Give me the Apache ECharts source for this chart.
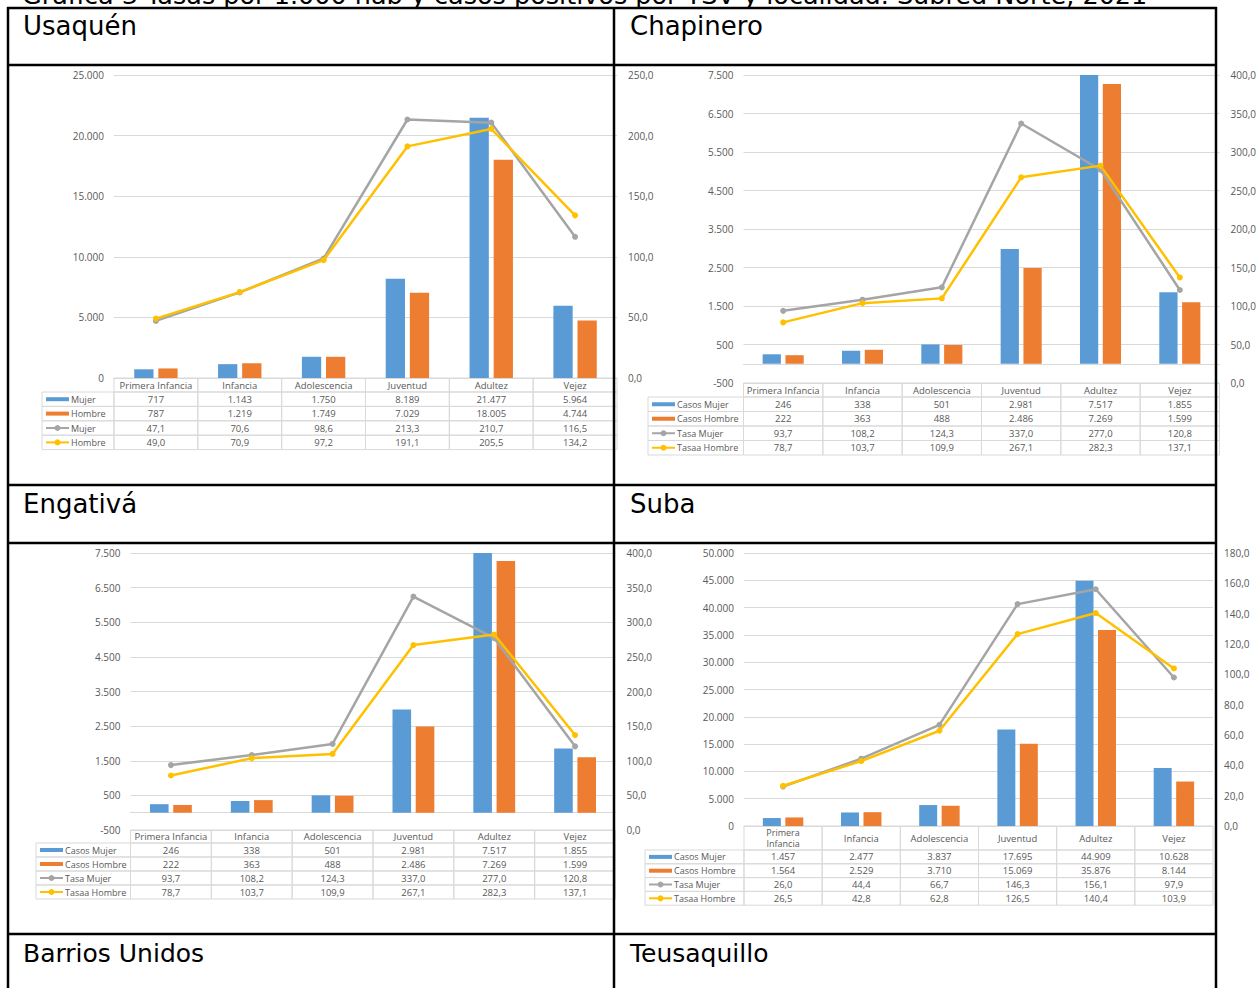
<!DOCTYPE html>
<html><head><meta charset="utf-8">
<script src="https://cdn.jsdelivr.net/npm/echarts@6/dist/echarts.min.js"></script>
<style>html,body{margin:0;padding:0;background:#fff;overflow:hidden}#c{width:1256px;height:988px}</style>
</head><body><div id="c"></div>
<script>
// ---------- data ----------
const pageTitle = 'Gráfica 3 Tasas por 1.000 hab y casos positivos por TSV y localidad. Subred Norte, 2021';
const cellTitles = ['Usaquén', 'Chapinero', 'Engativá', 'Suba', 'Barrios Unidos', 'Teusaquillo'];
const categories = ['Primera Infancia', 'Infancia', 'Adolescencia', 'Juventud', 'Adultez', 'Vejez'];
const categoriesSuba = ['Primera\nInfancia', 'Infancia', 'Adolescencia', 'Juventud', 'Adultez', 'Vejez'];

const usaquenLegend = ['Mujer', 'Hombre', 'Mujer', 'Hombre'];
const usaquenCasosMujer = [717, 1143, 1750, 8189, 21477, 5964];
const usaquenCasosHombre = [787, 1219, 1749, 7029, 18005, 4744];
const usaquenTasaMujer = [47.1, 70.6, 98.6, 213.3, 210.7, 116.5];
const usaquenTasaHombre = [49.0, 70.9, 97.2, 191.1, 205.5, 134.2];
const usaquenLeftAxis = [0, 25000, 5000];
const usaquenRightAxis = [0, 250, 50];

const chapineroLegend = ['Casos Mujer', 'Casos Hombre', 'Tasa Mujer', 'Tasaa Hombre'];
const chapineroCasosMujer = [246, 338, 501, 2981, 7517, 1855];
const chapineroCasosHombre = [222, 363, 488, 2486, 7269, 1599];
const chapineroTasaMujer = [93.7, 108.2, 124.3, 337.0, 277.0, 120.8];
const chapineroTasaHombre = [78.7, 103.7, 109.9, 267.1, 282.3, 137.1];
const chapineroLeftAxis = [-500, 7500, 1000];
const chapineroRightAxis = [0, 400, 50];

const engativaLegend = ['Casos Mujer', 'Casos Hombre', 'Tasa Mujer', 'Tasaa Hombre'];
const engativaCasosMujer = [246, 338, 501, 2981, 7517, 1855];
const engativaCasosHombre = [222, 363, 488, 2486, 7269, 1599];
const engativaTasaMujer = [93.7, 108.2, 124.3, 337.0, 277.0, 120.8];
const engativaTasaHombre = [78.7, 103.7, 109.9, 267.1, 282.3, 137.1];
const engativaLeftAxis = [-500, 7500, 1000];
const engativaRightAxis = [0, 400, 50];

const subaLegend = ['Casos Mujer', 'Casos Hombre', 'Tasa Mujer', 'Tasaa Hombre'];
const subaCasosMujer = [1457, 2477, 3837, 17695, 44909, 10628];
const subaCasosHombre = [1564, 2529, 3710, 15069, 35876, 8144];
const subaTasaMujer = [26.0, 44.4, 66.7, 146.3, 156.1, 97.9];
const subaTasaHombre = [26.5, 42.8, 62.8, 126.5, 140.4, 103.9];
const subaLeftAxis = [0, 50000, 5000];
const subaRightAxis = [0, 180, 20];

// ---------- styles / layout ----------
const C_BLUE = '#5B9BD5', C_ORANGE = '#ED7D31', C_GRAY = '#A5A5A5', C_GOLD = '#FFC000';
const TXT = '#595959', GRID = '#D9D9D9';
const FONT = '"Open Sans", sans-serif';
const DOCFONT = '"DejaVu Sans", Verdana, sans-serif';
const AXFS = 10, TBFS = 9.5, LGFS = 9;

const panels = [
  { legend: usaquenLegend, head: categories, rows: [usaquenCasosMujer, usaquenCasosHombre, usaquenTasaMujer, usaquenTasaHombre],
    la: usaquenLeftAxis, ra: usaquenRightAxis,
    L: { gl: 114, gr: 617, gt: 75, gb: 378, legL: 42, hh: 14, rh: 14.4 } },
  { legend: chapineroLegend, head: categories, rows: [chapineroCasosMujer, chapineroCasosHombre, chapineroTasaMujer, chapineroTasaHombre],
    la: chapineroLeftAxis, ra: chapineroRightAxis,
    L: { gl: 743.5, gr: 1219.5, gt: 75, gb: 383, legL: 648, hh: 14, rh: 14.5 } },
  { legend: engativaLegend, head: categories, rows: [engativaCasosMujer, engativaCasosHombre, engativaTasaMujer, engativaTasaHombre],
    la: engativaLeftAxis, ra: engativaRightAxis,
    L: { gl: 130.5, gr: 615.5, gt: 553, gb: 830, legL: 36, hh: 13, rh: 14 } },
  { legend: subaLegend, head: categoriesSuba, rows: [subaCasosMujer, subaCasosHombre, subaTasaMujer, subaTasaHombre],
    la: subaLeftAxis, ra: subaRightAxis,
    L: { gl: 744, gr: 1213, gt: 553, gb: 826, legL: 645, hh: 24, rh: 13.8 } }
];

function fmtInt(v) {
  const s = Math.abs(Math.round(v)).toString().replace(/\B(?=(\d{3})+(?!\d))/g, '.');
  return (v < 0 ? '-' : '') + s;
}
function fmtDec(v) { return v.toFixed(1).replace('.', ','); }

const grids = [], xAxes = [], yAxes = [], series = [], graphics = [];
const rowColors = [C_BLUE, C_ORANGE, C_GRAY, C_GOLD];

panels.forEach((p, i) => {
  const L = p.L;
  grids.push({ left: L.gl, top: L.gt, width: L.gr - L.gl, height: L.gb - L.gt, outerBoundsMode: 'none', containLabel: false });
  xAxes.push({ type: 'category', gridIndex: i, data: categories,
    axisLabel: { show: false }, axisTick: { show: false },
    axisLine: { show: true, onZero: true, onZeroAxisIndex: 2 * i, lineStyle: { color: GRID, width: 1 } } });
  yAxes.push({ type: 'value', gridIndex: i, position: 'left', min: p.la[0], max: p.la[1], interval: p.la[2],
    axisLine: { show: false }, axisTick: { show: false },
    axisLabel: { color: TXT, fontSize: AXFS, fontFamily: FONT, margin: 10, formatter: v => fmtInt(v) },
    splitLine: { show: true, lineStyle: { color: GRID, width: 1 } } });
  yAxes.push({ type: 'value', gridIndex: i, position: 'right', min: p.ra[0], max: p.ra[1], interval: p.ra[2],
    axisLine: { show: false }, axisTick: { show: false },
    axisLabel: { color: TXT, fontSize: AXFS, fontFamily: FONT, margin: 11, formatter: v => fmtDec(v) },
    splitLine: { show: false } });
  series.push({ type: 'bar', name: p.legend[0], xAxisIndex: i, yAxisIndex: 2 * i, data: p.rows[0],
    barWidth: '23%', barGap: '25%', itemStyle: { color: C_BLUE }, silent: true });
  series.push({ type: 'bar', name: p.legend[1], xAxisIndex: i, yAxisIndex: 2 * i, data: p.rows[1],
    barWidth: '23%', barGap: '25%', itemStyle: { color: C_ORANGE }, silent: true });
  series.push({ type: 'line', name: p.legend[2], xAxisIndex: i, yAxisIndex: 2 * i + 1, data: p.rows[2],
    symbol: 'circle', symbolSize: 6, lineStyle: { color: C_GRAY, width: 2.5 }, itemStyle: { color: C_GRAY }, z: 3, silent: true });
  series.push({ type: 'line', name: p.legend[3], xAxisIndex: i, yAxisIndex: 2 * i + 1, data: p.rows[3],
    symbol: 'circle', symbolSize: 6, lineStyle: { color: C_GOLD, width: 2.5 }, itemStyle: { color: C_GOLD }, z: 4, silent: true });

  // data table under the plot
  const n = categories.length, cw = (L.gr - L.gl) / n;
  let y = L.gb;
  const cellStyle = { fill: 'none', stroke: GRID, lineWidth: 1 };
  p.head.forEach((c, k) => {
    graphics.push({ type: 'rect', shape: { x: L.gl + k * cw, y: y, width: cw, height: L.hh }, style: cellStyle, silent: true });
    const two = c.indexOf('\n') >= 0;
    graphics.push({ type: 'text', x: L.gl + (k + 0.5) * cw, y: y + L.hh / 2,
      style: { text: c, fill: TXT, fontSize: two ? 9 : TBFS, fontFamily: FONT, align: 'center', verticalAlign: 'middle', lineHeight: two ? 11 : 12 }, silent: true });
  });
  y += L.hh;
  p.rows.forEach((row, r) => {
    graphics.push({ type: 'rect', shape: { x: L.legL, y: y, width: L.gl - L.legL, height: L.rh }, style: cellStyle, silent: true });
    const kx = L.legL + 4, ky = y + L.rh / 2;
    if (r < 2) {
      graphics.push({ type: 'rect', shape: { x: kx, y: ky - 2, width: 23, height: 4 }, style: { fill: rowColors[r] }, silent: true });
    } else {
      graphics.push({ type: 'line', shape: { x1: kx, y1: ky, x2: kx + 23, y2: ky }, style: { stroke: rowColors[r], lineWidth: 2 }, silent: true });
      graphics.push({ type: 'circle', shape: { cx: kx + 11.5, cy: ky, r: 3 }, style: { fill: rowColors[r] }, silent: true });
    }
    graphics.push({ type: 'text', x: kx + 25, y: ky,
      style: { text: p.legend[r], fill: TXT, fontSize: LGFS, fontFamily: FONT, align: 'left', verticalAlign: 'middle' }, silent: true });
    row.forEach((v, k) => {
      graphics.push({ type: 'rect', shape: { x: L.gl + k * cw, y: y, width: cw, height: L.rh }, style: cellStyle, silent: true });
      graphics.push({ type: 'text', x: L.gl + (k + 0.5) * cw, y: ky,
        style: { text: r < 2 ? fmtInt(v) : fmtDec(v), fill: TXT, fontSize: TBFS, fontFamily: FONT, align: 'center', verticalAlign: 'middle' }, silent: true });
    });
    y += L.rh;
  });
});

// document table frame and texts
const frameH = [8, 65, 485, 543, 934];
const frameV = [8, 614, 1216];
const titlePos = [[23, 26], [630, 26], [23, 504], [630, 504], [23, 953], [630, 953]];
graphics.push({ type: 'text', x: 22, y: -5, z: 100,
  style: { text: pageTitle, fill: '#000', fontSize: 25.5, fontFamily: DOCFONT, align: 'left', verticalAlign: 'middle' }, silent: true });
frameH.forEach(yy => graphics.push({ type: 'line', z: 100, shape: { x1: 7, y1: yy, x2: 1217, y2: yy }, style: { stroke: '#000', lineWidth: 2.5 }, silent: true }));
frameV.forEach(xx => graphics.push({ type: 'line', z: 100, shape: { x1: xx, y1: 7, x2: xx, y2: 988 }, style: { stroke: '#000', lineWidth: 2.5 }, silent: true }));
cellTitles.forEach((t, k) => graphics.push({ type: 'text', z: 100, x: titlePos[k][0], y: titlePos[k][1],
  style: { text: t, fill: '#000', fontSize: k < 4 ? 26 : 25, fontFamily: DOCFONT, align: 'left', verticalAlign: 'middle' }, silent: true }));

const chart = echarts.init(document.getElementById('c'), null, { renderer: 'svg', width: 1256, height: 988 });
chart.setOption({
  animation: false,
  backgroundColor: '#fff',
  grid: grids, xAxis: xAxes, yAxis: yAxes, series: series, graphic: graphics
});
</script></body></html>
